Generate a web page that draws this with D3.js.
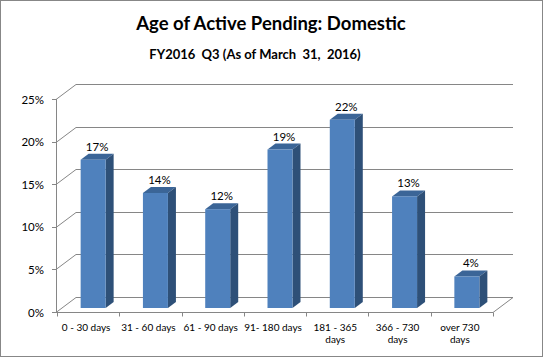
<!DOCTYPE html>
<html><head><meta charset="utf-8">
<script src="https://cdn.jsdelivr.net/npm/d3@7"></script>
<style>body{margin:0;background:#fff}svg{display:block}</style>
</head><body>
<svg id="c" width="543" height="357"></svg>
<script>
const categories = [["0 - 30 days"],["31 - 60 days"],["61 - 90 days"],["91- 180 days"],["181 - 365","days"],["366 - 730","days"],["over 730","days"]];
const values = [17.4, 13.5, 11.6, 18.6, 22.1, 13.1, 3.7];
const valueLabels = ["17%","14%","12%","19%","22%","13%","4%"];
const yTicks = [0,5,10,15,20,25];
const title = "Age of Active Pending: Domestic";
const subtitle = "FY2016  Q3 (As of March  31,  2016)";

const svg = d3.select("#c");
const font = "Lato, 'Open Sans', sans-serif";
const gridCol = "#868686";
const DX = 20, DY = -15;          // depth of the 3D floor
const bOff = [5, -4], bDep = [8, -6];   // bar position / depth

const x = d3.scaleBand().domain(d3.range(categories.length)).range([57, 493]).padding(0);
const y = d3.scaleLinear().domain([0, 25]).range([312, 99]);

// border
svg.append("rect").attr("x",0.5).attr("y",0.5).attr("width",542).attr("height",356)
  .attr("fill","#fff").attr("stroke","#878787");

// titles
svg.append("text").attr("x",271).attr("y",30).attr("text-anchor","middle")
  .attr("font-family",font).attr("font-weight","bold").attr("font-size",18.5).text(title);
svg.append("text").attr("x",255).attr("y",59).attr("text-anchor","middle")
  .attr("font-family",font).attr("font-weight","bold").attr("font-size",13)
  .attr("xml:space","preserve").style("white-space","pre").text(subtitle);

const g = svg.append("g").attr("fill","none").attr("stroke",gridCol).attr("stroke-width",1);
const x0 = x.range()[0], x1 = x.range()[1];
// gridlines with left diagonals
yTicks.forEach(v => {
  const yy = Math.round(y(v)) + 0.5;
  g.append("path").attr("d", `M${x0-1},${yy}L${x0-1+DX},${yy+DY}L${x1+DX},${yy+DY}`);
  g.append("line").attr("x1",x0-5).attr("x2",x0-1).attr("y1",yy).attr("y2",yy);
});
// front vertical axis
g.append("line").attr("x1",x0-0.5).attr("x2",x0-0.5).attr("y1",Math.round(y(25))).attr("y2",Math.round(y(0))+1);
// floor front & right diagonal
const fy = Math.round(y(0)) + 0.5;
g.append("path").attr("d", `M${x0-1},${fy}L${x1},${fy}L${x1+DX},${fy+DY}`);
// x ticks
d3.range(categories.length + 1).forEach(i => {
  const xx = Math.round(x0 + i * x.step()) + 0.5;
  g.append("line").attr("x1",xx).attr("x2",xx).attr("y1",fy).attr("y2",fy+4);
});

// y labels
svg.append("g").selectAll("text").data(yTicks).join("text")
  .attr("x",44).attr("y",d => y(d) + 4.5).attr("text-anchor","end")
  .attr("font-family",font).attr("font-size",11.5).attr("fill","#000").text(d => d + "%");

// bars
const bw = 25;
const bars = svg.append("g");
values.forEach((v, i) => {
  const cx = x(i) + x.bandwidth()/2 + bOff[0];
  const L = cx - bw/2, R = cx + bw/2;
  const B = y(0) + bOff[1], T = y(v) + bOff[1];
  const [dx, dy] = bDep;
  bars.append("path").attr("d", `M${L},${T}L${R},${T}L${R+dx},${T+dy}L${L+dx},${T+dy}Z`).attr("fill","#3B6597");
  bars.append("path").attr("d", `M${R},${T}L${R+dx},${T+dy}L${R+dx},${B+dy}L${R},${B}Z`).attr("fill","#2E5078");
  bars.append("rect").attr("x",L).attr("y",T).attr("width",bw).attr("height",B-T).attr("fill","#4F81BD");
  svg.append("text").attr("x",cx + dx/2).attr("y",T - 9).attr("text-anchor","middle")
    .attr("font-family",font).attr("font-size",11.5).attr("fill","#000").text(valueLabels[i]);
});

// x labels
categories.forEach((lines, i) => {
  const t = svg.append("text").attr("font-family",font).attr("font-size",10).attr("fill","#000")
    .attr("text-anchor","middle");
  lines.forEach((s, j) => {
    t.append("tspan").attr("x", x(i) + x.bandwidth()/2 - 2).attr("y", 331 + j*12).text(s);
  });
});
</script>
</body></html>
